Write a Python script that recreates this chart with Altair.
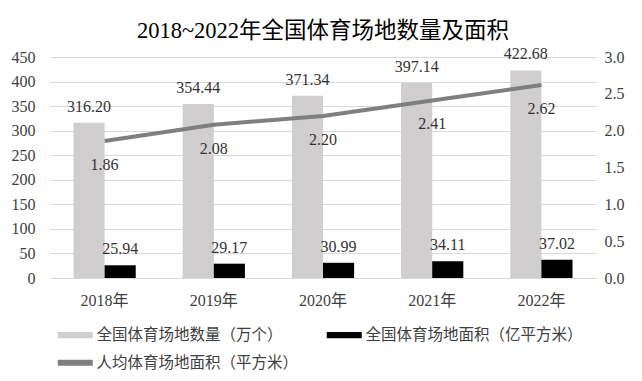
import altair as alt
import pandas as pd

years = ["2018年", "2019年", "2020年", "2021年", "2022年"]
count_vals = [316.20, 354.44, 371.34, 397.14, 422.68]
area_vals = [25.94, 29.17, 30.99, 34.11, 37.02]
percap_vals = [1.86, 2.08, 2.20, 2.41, 2.62]

s_count = "全国体育场地数量（万个）"
s_area = "全国体育场地面积（亿平方米）"
s_per = "人均体育场地面积（平方米）"
series = [s_count, s_area, s_per]
colors = ["#D0CECE", "#000000", "#7F7F7F"]

bars = pd.DataFrame({
    "year": years * 2,
    "series": [s_count] * 5 + [s_area] * 5,
    "value": count_vals + area_vals,
})
line = pd.DataFrame({"year": years, "value": percap_vals})

FONT = "Liberation Serif, Noto Sans CJK SC"

xenc = alt.X("year:N", title=None, sort=years,
             scale=alt.Scale(paddingInner=0.43, paddingOuter=0.215),
             axis=alt.Axis(labelAngle=0, domain=False, ticks=False,
                           labelPadding=14, labelFontSize=16, labelFont=FONT,
                           labelColor="#404040"))
xoff = alt.XOffset("series:N", sort=[s_count, s_area],
                   scale=alt.Scale(domain=[s_count, s_area], paddingInner=0, paddingOuter=0))
yleft = alt.Y("value:Q", title=None,
              scale=alt.Scale(domain=[0, 450], nice=False),
              axis=alt.Axis(values=list(range(0, 451, 50)), domain=False, ticks=False,
                            labelOverlap=False, tickCount=10,
                            labelPadding=15, labelFontSize=16, labelFont=FONT,
                            labelColor="#404040", gridColor="#D9D9D9", gridWidth=1))

bar_layer = alt.Chart(bars).mark_bar().encode(
    x=xenc, xOffset=xoff, y=yleft,
    color=alt.Color("series:N",
                    scale=alt.Scale(domain=series, range=colors),
                    legend=alt.Legend(
                        title=None, orient="none", legendX=17.5, legendY=270,
                        direction="horizontal",
                        columns=2, columnPadding=28, rowPadding=11,
                        symbolType="M-2.5,-0.43H2.5V0.43H-2.5Z", symbolSize=196,
                        symbolStrokeWidth=0, labelOffset=13.5, padding=0,
                        labelFontSize=15.5, labelFont=FONT,
                        labelColor="#404040", labelLimit=400)),
)
bar_text = alt.Chart(bars).mark_text(dy=-11, baseline="alphabetic", fontSize=16,
                                     font=FONT, color="#333333").encode(
    x=alt.X("year:N", sort=years), xOffset=xoff,
    y=yleft,
    text=alt.Text("value:Q", format=".2f"),
)
left = alt.layer(bar_layer, bar_text)

rscale = alt.Scale(domain=[0, 3], nice=False)
yright = alt.Y("value:Q", title=None, scale=rscale,
               axis=alt.Axis(orient="right", values=[0, 0.5, 1, 1.5, 2, 2.5, 3],
                             format=".1f", domain=False, ticks=False, grid=False,
                             labelOverlap=False,
                             labelPadding=8, labelFontSize=16, labelFont=FONT,
                             labelColor="#404040"))
line_layer = alt.Chart(line).mark_line(color="#7F7F7F", strokeWidth=4).encode(
    x=alt.X("year:N", sort=years), y=yright)
line_text = alt.Chart(line).mark_text(dy=16, baseline="top", fontSize=16,
                                      font=FONT, color="#333333").encode(
    x=alt.X("year:N", sort=years),
    y=yright,
    text=alt.Text("value:Q", format=".2f"),
)
right = alt.layer(line_layer, line_text)

chart = alt.layer(left, right).resolve_scale(y="independent").properties(
    width=546, height=221,
    title=alt.TitleParams("2018~2022年全国体育场地数量及面积", fontSize=22.5,
                          font=FONT, fontWeight="normal", color="#000000",
                          offset=4, anchor="middle"),
    autosize=alt.AutoSizeParams(type="none"),
    padding={"left": 42, "top": 49, "right": 38, "bottom": 95},
).configure_view(stroke=None)

chart.save("out.html", embed_options={"renderer": "svg", "actions": False})
